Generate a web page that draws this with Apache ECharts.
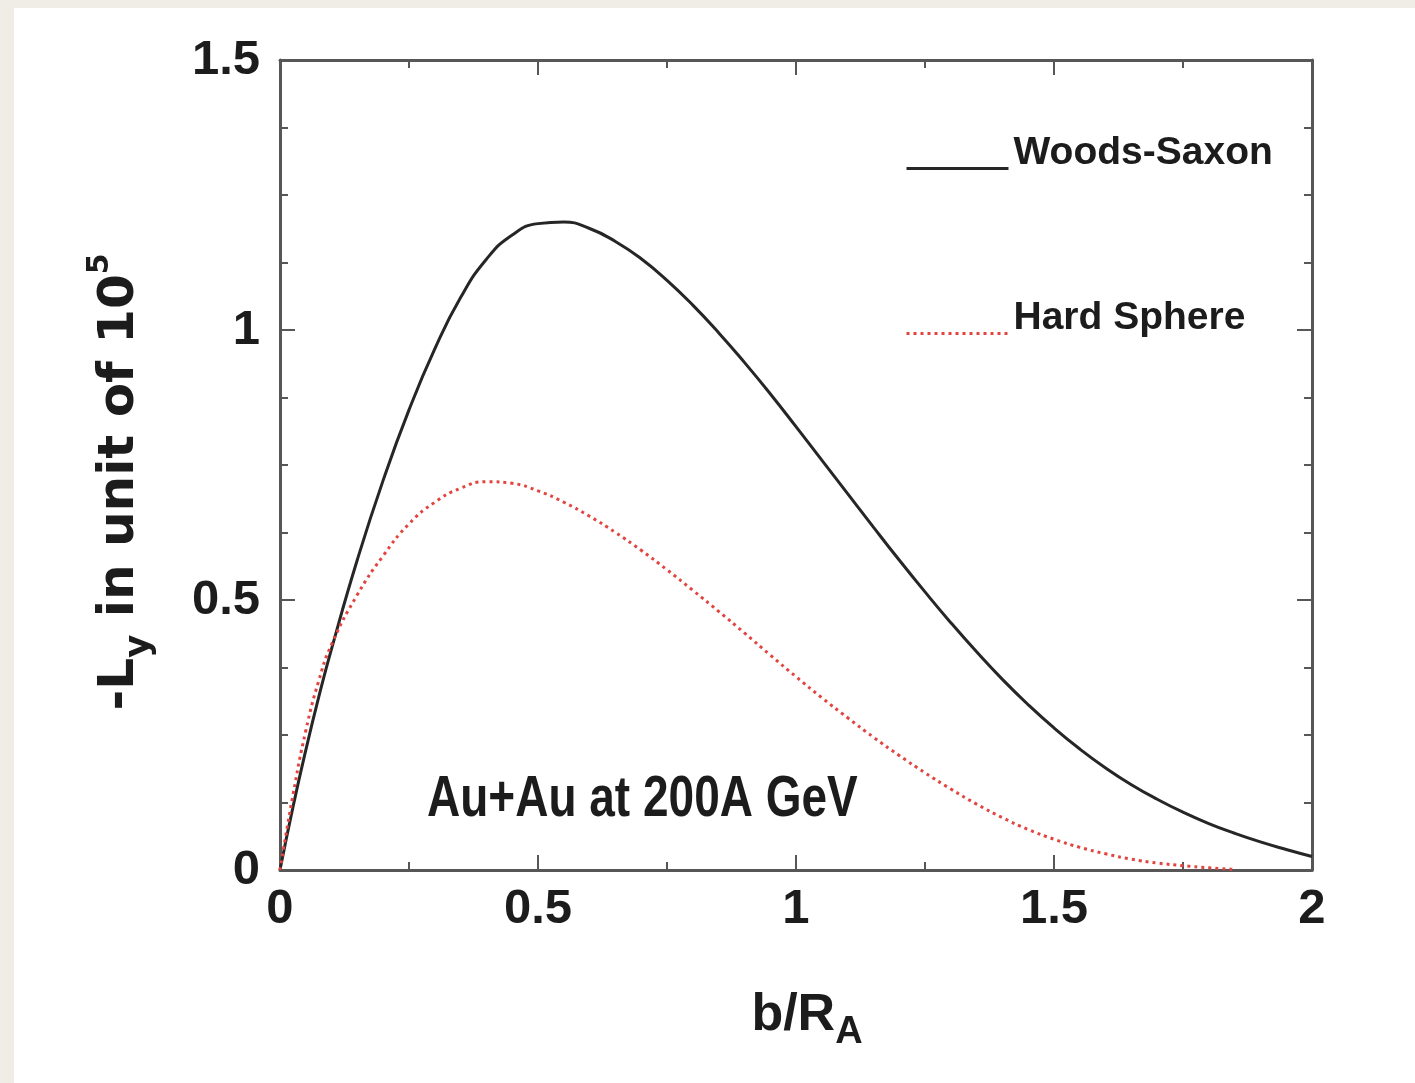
<!DOCTYPE html>
<html>
<head>
<meta charset="utf-8">
<script src="https://cdn.jsdelivr.net/npm/echarts@6/dist/echarts.min.js"></script>
<style>
  html, body { margin: 0; padding: 0; background: #ffffff; }
  #main { width: 1415px; height: 1083px; }
</style>
</head>
<body>
<div id="main"></div>
<script>
// Impact parameter in units of the nuclear radius
const bOverR = [0, 0.025, 0.05, 0.075, 0.1, 0.15, 0.2, 0.25, 0.3, 0.35, 0.4, 0.45, 0.5, 0.55,
  0.6, 0.65, 0.7, 0.75, 0.8, 0.85, 0.9, 0.95, 1.0, 1.05, 1.1, 1.15, 1.2, 1.25, 1.3, 1.35,
  1.4, 1.45, 1.5, 1.55, 1.6, 1.65, 1.7, 1.75, 1.8, 1.85, 1.9, 1.95, 2.0];

// -L_y (units of 1e5), Woods-Saxon profile
const woodsSaxon = [0, 0.116, 0.222, 0.320, 0.410, 0.575, 0.722, 0.852, 0.965, 1.060, 1.131,
  1.176, 1.197, 1.200, 1.188, 1.164, 1.132, 1.092, 1.046, 0.995, 0.940, 0.882, 0.821, 0.759,
  0.697, 0.635, 0.574, 0.515, 0.458, 0.404, 0.353, 0.306, 0.263, 0.224, 0.189, 0.158, 0.131,
  0.107, 0.086, 0.068, 0.052, 0.038, 0.025];

// -L_y (units of 1e5), hard-sphere profile (vanishes before b = 2 R_A)
const hardSphere = [0, 0.138, 0.258, 0.350, 0.418, 0.510, 0.582, 0.641, 0.681, 0.707, 0.719,
  0.716, 0.702, 0.681, 0.655, 0.625, 0.592, 0.556, 0.518, 0.479, 0.439, 0.398, 0.358, 0.319,
  0.282, 0.246, 0.212, 0.180, 0.150, 0.122, 0.097, 0.075, 0.057, 0.042, 0.030, 0.020, 0.013,
  0.008, 0.004, 0.001, null, null, null];

const seriesNames = ['Woods-Saxon', 'Hard Sphere'];
const annotation = 'Au+Au at 200A GeV';

const sans = '"Liberation Sans", Arial, Helvetica, sans-serif';
const ink = '#1c1c1c';
const frame = '#575757';

function pairs(xs, ys) {
  const out = [];
  xs.forEach((x, i) => { if (ys[i] !== null) out.push([x, ys[i]]); });
  return out;
}

const tickStyle = { inside: true, length: 15, lineStyle: { color: frame, width: 2 } };
const minorStyle = (n) => ({ show: true, splitNumber: n, length: 8, lineStyle: { color: frame, width: 2 } });
const lineStyleAxis = { show: true, onZero: false, lineStyle: { color: frame, width: 3 } };
const labelStyle = { color: ink, fontFamily: sans, fontWeight: 'bold', fontSize: 49 };

const legendBase = {
  left: 900, itemWidth: 102, itemHeight: 14, selectedMode: false,
  itemStyle: { opacity: 0 },
  lineStyle: { width: 3 },
  formatter: '{t|{name}}',
  textStyle: {
    rich: { t: { color: ink, fontFamily: sans, fontWeight: 'bold', fontSize: 39, padding: [0, 0, 30, 0] } }
  }
};

const chart = echarts.init(document.getElementById('main'), null, { renderer: 'canvas' });

chart.setOption({
  backgroundColor: '#ffffff',
  animation: false,
  grid: { left: 280, top: 60, right: 103, bottom: 213, containLabel: false },
  xAxis: [
    {
      type: 'value', min: 0, max: 2, interval: 0.5, position: 'bottom',
      axisLine: lineStyleAxis, axisTick: tickStyle, minorTick: minorStyle(2),
      splitLine: { show: false }, minorSplitLine: { show: false },
      axisLabel: Object.assign({ margin: 15 }, labelStyle),
      name: '{m|b/R}{s|A}', nameLocation: 'middle', nameGap: 110,
      nameTextStyle: {
        color: ink,
        padding: [0, 0, 0, 22],
        rich: {
          m: { fontFamily: sans, fontWeight: 'bold', fontSize: 52, color: ink },
          s: { fontFamily: sans, fontWeight: 'bold', fontSize: 38, color: ink, padding: [34, 0, 0, 0] }
        }
      }
    },
    {
      type: 'value', min: 0, max: 2, interval: 0.5, position: 'top',
      axisLine: lineStyleAxis, axisTick: tickStyle, minorTick: minorStyle(2),
      splitLine: { show: false }, axisLabel: { show: false }
    }
  ],
  yAxis: [
    {
      type: 'value', min: 0, max: 1.5, interval: 0.5, position: 'left',
      axisLine: lineStyleAxis, axisTick: tickStyle, minorTick: minorStyle(4),
      splitLine: { show: false }, minorSplitLine: { show: false },
      axisLabel: Object.assign({ margin: 20 }, labelStyle),
      name: '{a|-L}{b|y}{a| in unit of 10}{c|5}', nameLocation: 'middle', nameRotate: 90, nameGap: 122,
      nameTextStyle: {
        color: ink,
        padding: [0, 34, 0, 0],
        rich: {
          a: { fontFamily: '"DejaVu Sans", sans-serif', fontWeight: 'bold', fontSize: 50, color: ink },
          b: { fontFamily: '"DejaVu Sans", sans-serif', fontWeight: 'bold', fontSize: 36, color: ink, padding: [40, 0, 0, 0] },
          c: { fontFamily: '"DejaVu Sans", sans-serif', fontWeight: 'bold', fontSize: 30, color: ink, padding: [0, 0, 40, 0] }
        }
      }
    },
    {
      type: 'value', min: 0, max: 1.5, interval: 0.5, position: 'right',
      axisLine: lineStyleAxis, axisTick: tickStyle, minorTick: minorStyle(4),
      splitLine: { show: false }, axisLabel: { show: false }
    }
  ],
  legend: [
    Object.assign({ data: [seriesNames[0]], top: 129 }, legendBase),
    Object.assign({ data: [seriesNames[1]], top: 294 }, legendBase)
  ],
  graphic: [
    { type: 'rect', left: 0, top: 0, shape: { width: 14, height: 1083 }, style: { fill: '#f0ece6' }, silent: true },
    { type: 'rect', left: 0, top: 0, shape: { width: 1415, height: 8 }, style: { fill: '#f0ece6' }, silent: true },
    {
      type: 'text', silent: true, x: 427, y: 800, scaleY: 1.25,
      style: { text: annotation, x: 0, y: 0, verticalAlign: 'middle', fill: ink,
        fontFamily: sans, fontWeight: 'bold', fontSize: 46 }
    }
  ],
  series: [
    {
      name: seriesNames[0], type: 'line', xAxisIndex: 0, yAxisIndex: 0,
      data: pairs(bOverR, woodsSaxon), showSymbol: false, symbol: 'none',
      smooth: 0.5,
      lineStyle: { color: '#262626', width: 3 }, itemStyle: { color: '#262626' }, z: 3
    },
    {
      name: seriesNames[1], type: 'line', xAxisIndex: 0, yAxisIndex: 0,
      data: pairs(bOverR, hardSphere), showSymbol: false, symbol: 'none',
      smooth: 0.5,
      lineStyle: { color: '#e2453f', width: 3, type: [3, 4] }, itemStyle: { color: '#e2453f' }, z: 4
    }
  ]
});
</script>
</body>
</html>
